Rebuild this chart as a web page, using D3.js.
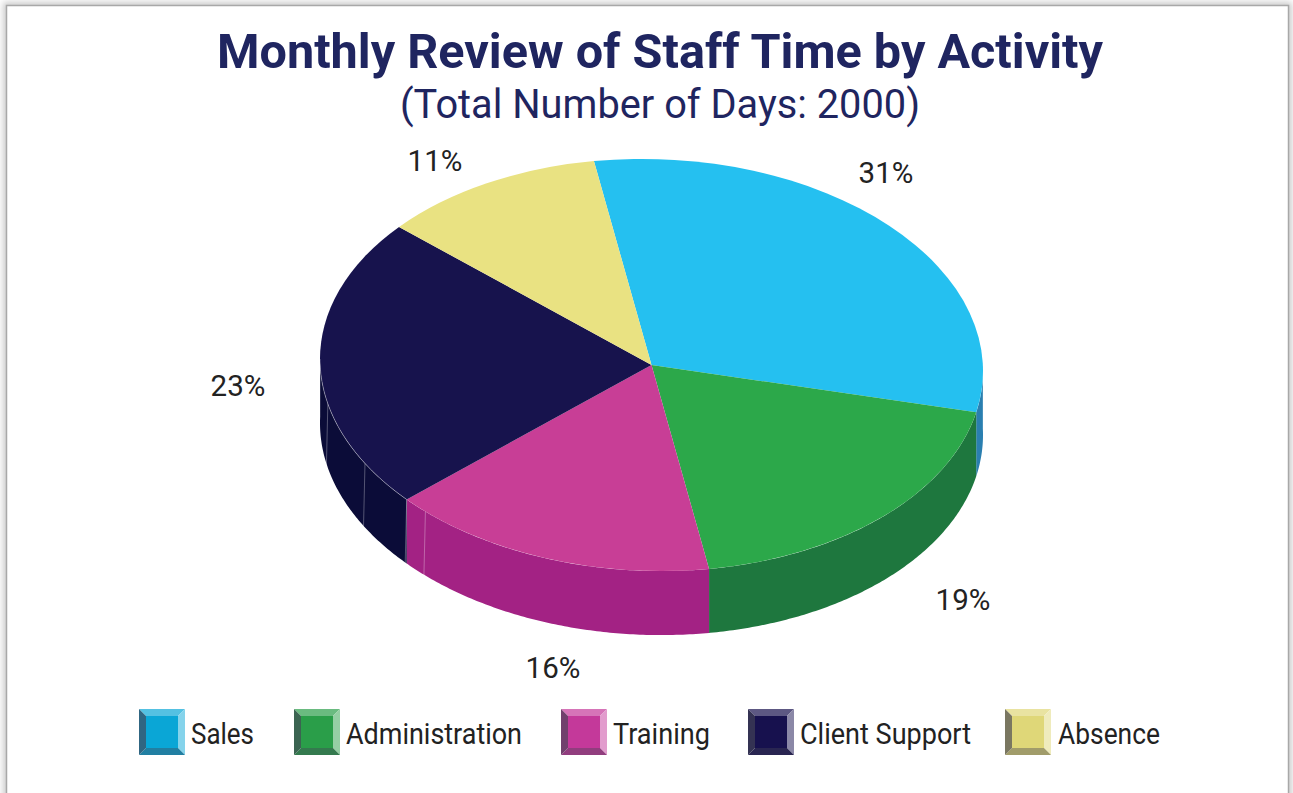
<!DOCTYPE html>
<html>
<head>
<meta charset="utf-8">
<title>Monthly Review of Staff Time by Activity</title>
<script src="https://d3js.org/d3.v7.min.js"></script>
<style>
  html, body { margin: 0; padding: 0; background: #fff; }
  svg { display: block; }
  text { font-family: Roboto, "Noto Sans", sans-serif; fill: #222; }
</style>
</head>
<body>
<div id="chart"></div>
<script>
// data
var categories = ["Sales", "Administration", "Training", "Client Support", "Absence"];
var percents = [31, 19, 16, 23, 11];
var percentLabels = ["31%", "19%", "16%", "23%", "11%"];

// colours
var topColors = ["#25c0f0", "#2ca84a", "#c83e96", "#17134d", "#e9e282"];
var sideColors = ["#2a7fb0", "#1e773e", "#a32284", "#0b0c38", "#b5ae5c"];
var legendColors = ["#0aa6d6", "#2a9e49", "#c4399a", "#17114e", "#dfd778"];

// layout
var width = 1293, height = 793;
var cx = 651.5, cy = 365, rx = 331.5, ry = 206, depth = 64;
var tilt = 0.018; // the ellipse leans a little, right side lower
var startDeg = -10;
var labelX = [886, 963, 553, 238, 435];
var labelY = [173, 600, 668, 386, 161];
var legendX = [139, 294, 561, 748, 1005];
var legendTextX = [191, 346, 613, 800, 1058];
var legendTextLen = [63, 176, 97, 171, 102];
var swatch = 46, bevel = 7;
var seamDegs = [223, 227.6, 239.8, 257.5];

var svg = d3.select("#chart").append("svg")
    .attr("width", width)
    .attr("height", height);

// soft shadow round the card
var defs = svg.append("defs");
var blur = defs.append("filter").attr("id", "soft")
    .attr("x", "-5%").attr("y", "-5%").attr("width", "110%").attr("height", "110%");
blur.append("feGaussianBlur").attr("stdDeviation", 3);

svg.append("rect")
    .attr("x", 3).attr("y", 2).attr("width", 1289).attr("height", 830)
    .attr("fill", "#ccc").attr("filter", "url(#soft)");
svg.append("rect")
    .attr("x", 6.5).attr("y", 5.5).attr("width", 1282).attr("height", 830)
    .attr("fill", "#fff").attr("stroke", "#a8a8a8").attr("stroke-width", 1.5);

// title
svg.append("text")
    .attr("x", 660).attr("y", 68)
    .attr("text-anchor", "middle")
    .attr("textLength", 886).attr("lengthAdjust", "spacingAndGlyphs")
    .style("font-size", "49px").style("font-weight", 700).style("fill", "#1f2560")
    .text("Monthly Review of Staff Time by Activity");
svg.append("text")
    .attr("x", 660).attr("y", 118)
    .attr("text-anchor", "middle")
    .attr("textLength", 520).attr("lengthAdjust", "spacingAndGlyphs")
    .style("font-size", "41px").style("fill", "#1f2560")
    .text("(Total Number of Days: 2000)");

// pie
var toRad = Math.PI / 180;
var pie = d3.pie().sort(null)
    .startAngle(startDeg * toRad)
    .endAngle((startDeg + 360) * toRad);
var slices = pie(percents);

function rimX(a) { return cx + rx * Math.sin(a); }
function rimY(a) { return cy - ry * Math.cos(a) + tilt * rx * Math.sin(a); }

// side walls, only the front half of the ellipse shows
var wall = d3.area()
    .x(rimX)
    .y0(rimY)
    .y1(function(a) { return rimY(a) + depth; });

slices.forEach(function(d, i) {
    var a0 = Math.max(d.startAngle, Math.PI / 2 - 0.03);
    var a1 = Math.min(d.endAngle, Math.PI * 1.5 + 0.03);
    if (a1 <= a0) return;
    var steps = d3.range(a0, a1, 0.01).concat([a1]);
    svg.append("path")
        .attr("d", wall(steps))
        .attr("fill", sideColors[i]);
});

// thin light seams on the wall
seamDegs.forEach(function(deg) {
    var a = deg * toRad;
    svg.append("line")
        .attr("x1", rimX(a))
        .attr("y1", rimY(a))
        .attr("x2", rimX(a) - 1.5)
        .attr("y2", rimY(a) + depth)
        .attr("stroke", "#fff").attr("stroke-opacity", 0.3);
});

// top face is a normal arc squashed and leaned into the ellipse
var arc = d3.arc().innerRadius(0).outerRadius(rx);
svg.append("g")
    .attr("transform", "matrix(1," + tilt + ",0," + (ry / rx) + "," + cx + "," + cy + ")")
    .selectAll("path")
    .data(slices)
    .enter().append("path")
    .attr("d", arc)
    .attr("fill", function(d, i) { return topColors[i]; });

// faint light edge where the client support top meets its wall
var rimLine = d3.line().x(rimX).y(rimY);
var clientSlice = slices[3];
svg.append("path")
    .attr("d", rimLine(d3.range(clientSlice.startAngle, Math.PI * 1.5, 0.01)))
    .attr("fill", "none")
    .attr("stroke", "#fff").attr("stroke-opacity", 0.35);

// percent labels
svg.selectAll(".pct")
    .data(percentLabels)
    .enter().append("text")
    .attr("class", "pct")
    .attr("x", function(d, i) { return labelX[i]; })
    .attr("y", function(d, i) { return labelY[i] + 10; })
    .attr("text-anchor", "middle")
    .style("font-size", "29.5px")
    .text(function(d) { return d; });

// legend
function legendItem(i) {
    var x = legendX[i], y = 709, s = swatch, b = bevel;
    var g = svg.append("g");
    var base = legendColors[i];
    var tint = d3.interpolateRgb(base, "#fff");
    var shade = d3.interpolateRgb(base, "#445");
    var faces = [
        { pts: [[x, y], [x + s, y], [x + s - b, y + b], [x + b, y + b]], c: tint(0.3) },
        { pts: [[x + s, y], [x + s, y + s], [x + s - b, y + s - b], [x + s - b, y + b]], c: tint(0.5) },
        { pts: [[x, y + s], [x + s, y + s], [x + s - b, y + s - b], [x + b, y + s - b]], c: shade(0.4) },
        { pts: [[x, y], [x, y + s], [x + b, y + s - b], [x + b, y + b]], c: shade(0.65) }
    ];
    faces.forEach(function(f) {
        g.append("polygon")
            .attr("points", f.pts.join(" "))
            .attr("fill", f.c);
    });
    g.append("rect")
        .attr("x", x + b).attr("y", y + b)
        .attr("width", s - 2 * b).attr("height", s - 2 * b)
        .attr("fill", base);
    g.append("text")
        .attr("x", legendTextX[i]).attr("y", y + 35)
        .attr("textLength", legendTextLen[i]).attr("lengthAdjust", "spacingAndGlyphs")
        .style("font-size", "30px")
        .text(categories[i]);
}
categories.forEach(function(c, i) { legendItem(i); });
</script>
</body>
</html>
